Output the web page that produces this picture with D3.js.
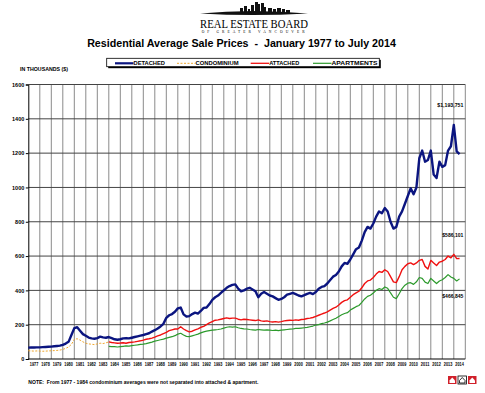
<!DOCTYPE html>
<html>
<head>
<meta charset="utf-8">
<script src="https://cdn.jsdelivr.net/npm/d3@7"></script>
<style>
  body { margin: 0; background: #fff; }
  svg text { font-family: "Liberation Sans", Arial, sans-serif; font-weight: bold; fill: #000; white-space: pre; }
</style>
</head>
<body>
<div id="chart"></div>
<script>
// quarterly values (thousands $), first value at start year, step 0.25 yr
const detachedStart = 1977;
const detached = [
  66, 67, 67, 68,   68, 69, 70, 71,   72, 74, 76, 78,   82, 90, 100, 140,
  180, 185, 165, 145,   135, 125, 120, 118,   122, 130, 126, 124,   128, 122, 115, 112,
  115, 120, 122, 120,   124, 128, 132, 136,   140, 145, 150, 160,   168, 178, 190, 205,
  240, 255, 262, 275,   295, 300, 260, 248,   250, 262, 270, 265,   280, 298, 300, 320,
  345, 360, 370, 385,   400, 415, 425, 432,   435, 410, 395, 400,   410, 415, 405, 395,
  360, 380, 390, 380,   370, 365, 355, 345,   350, 360, 375, 380,   385, 378, 370, 365,
  372, 380, 385, 378,   390, 410, 420, 425,   440, 460, 480, 490,   510, 540, 560, 555,
  580, 610, 640, 650,   690, 740, 770, 760,   790, 830, 860, 850,   880, 860, 800, 760,
  770, 830, 860, 905,   950, 995, 960, 1000,  1170, 1215, 1150, 1160,  1215, 1075, 1055, 1150,
  1120, 1130, 1215, 1240,  1364, 1210, 1194
];

const condoStart = 1977;
const condominium = [
  48, 47, 46, 47,   46, 45, 46, 47,   48, 49, 50, 52,   56, 62, 70, 85,
  115, 118, 110, 100,   92, 88, 86, 84,   88, 92, 90, 94,   100
];

const attachedStart = 1984;
const attached = [
  100, 96, 94, 92,   93, 95, 92, 96,   98, 100, 103, 106,   110, 115, 118, 122,
  128, 135, 140, 148,   155, 165, 170, 175,   175, 188, 175, 165,   158, 162, 170, 176,
  185, 190, 200, 210,   218, 226, 228, 232,   236, 240, 236, 238,   238, 232, 228, 232,
  230, 228, 226, 224,   228, 222, 220, 222,   218, 216, 218, 215,   218, 222, 224, 226,
  225, 228, 226, 230,   232, 236, 238, 242,   248, 255, 262, 268,   275, 285, 295, 302,
  315, 330, 340, 345,   360, 375, 385, 395,   415, 440, 455, 460,   475, 495, 510, 505,
  520, 510, 480, 450,   445, 480, 520, 540,   555, 560, 550, 560,   575, 580, 540, 525,
  575, 560, 545, 565,   570, 580, 600, 590,   610, 585, 586
];

const apartmentsStart = 1984;
const apartments = [
  74, 72, 72, 70,   72, 74, 76, 75,   78, 80, 82, 85,   87, 90, 94, 98,
  104, 108, 112, 116,   122, 126, 130, 136,   145, 150, 140, 132,   130, 135, 140, 145,
  152, 158, 162, 165,   168, 170, 172, 175,   180, 185, 188, 186,   188, 182, 178, 176,
  175, 172, 170, 168,   172, 170, 168, 170,   168, 166, 168, 165,   168, 170, 172, 174,
  175, 178, 178, 180,   182, 184, 188, 192,   198, 200, 206, 210,   215, 222, 230, 238,
  248, 258, 265, 270,   285, 295, 305, 312,   330, 350, 365, 372,   385, 400, 410, 405,
  420, 412, 385, 360,   352, 380, 410, 430,   442, 445, 435, 450,   475, 470, 448, 440,
  470, 455, 440, 455,   462, 475, 492, 478,   470, 455, 467
];

const years = d3.range(1977, 2015);
const yTicks = [0, 200, 400, 600, 800, 1000, 1200, 1400, 1600];

const legendItems = [
  { label: "DETACHED", color: "#0b1580", dash: null, width: 2.2, len: 31.5 },
  { label: "CONDOMINIUM", color: "#f0a830", dash: "2,1.5", width: 1, len: 43 },
  { label: "ATTACHED", color: "#f01010", dash: null, width: 1.3, len: 30 },
  { label: "APARTMENTS", color: "#2c9a2c", dash: null, width: 1.2, len: 46 }
];

const endLabels = [
  { text: "$1,193,751", y: 107.3, len: 26 },
  { text: "$586,101", y: 237.3, len: 21 },
  { text: "$466,845", y: 298.3, len: 21 }
];

const W = 485, H = 393;
const plot = { left: 28.3, right: 465.3, top: 84.5, bottom: 359 };

const svg = d3.select("#chart").append("svg")
  .attr("width", W).attr("height", H);

const x = d3.scaleLinear().domain([1977, 2015]).range([plot.left, plot.right]);
const y = d3.scaleLinear().domain([0, 1600]).range([plot.bottom, plot.top]);

// logo
const logo = svg.append("g");
logo.append("path")
  .attr("d", "M200,13.6 Q252,8.2 308,13.6 Q252,16.6 200,13.6 Z")
  .attr("fill", "#111");
const towers = [[240,8,3],[244,6,3],[248,9,2],[251,5,3],[255,2,3],[258,4,2],[261,3,3],[264,7,2],[268,8,4],[273,9,3],[277,8,4],[282,9,3],[286,10,4]];
towers.forEach(t => {
  logo.append("rect").attr("x", t[0]).attr("y", t[1]).attr("width", t[2]).attr("height", 13 - t[1]).attr("fill", "#111");
});
logo.append("text")
  .attr("x", 200).attr("y", 28)
  .attr("textLength", 108).attr("lengthAdjust", "spacingAndGlyphs")
  .style("font-family", "'Liberation Serif', 'Times New Roman', serif")
  .style("font-weight", "normal")
  .style("font-size", "12.5px")
  .text("REAL ESTATE BOARD");
logo.append("text")
  .attr("x", 201.7).attr("y", 32.8)
  .attr("textLength", 103).attr("lengthAdjust", "spacing")
  .style("font-family", "'Liberation Serif', 'Times New Roman', serif")
  .style("font-weight", "normal")
  .style("font-size", "3.6px")
  .text("OF GREATER VANCOUVER");

// title
svg.append("text")
  .attr("x", 241.5).attr("y", 47)
  .attr("text-anchor", "middle")
  .style("font-size", "10.7px")
  .text("Residential Average Sale Prices  -  January 1977 to July 2014");

// legend box
const lg = svg.append("g");
lg.append("rect").attr("x", 108.2).attr("y", 59.8).attr("width", 272.6).attr("height", 8.4).attr("fill", "#000");
lg.append("rect").attr("x", 106.7).attr("y", 58.3).attr("width", 272.6).attr("height", 8.4)
  .attr("fill", "#fff").attr("stroke", "#000").attr("stroke-width", 0.8);
const legendX = [115, 177, 250.7, 313];
legendItems.forEach((d, i) => {
  const lx = legendX[i];
  lg.append("line")
    .attr("x1", lx).attr("x2", lx + 18.5).attr("y1", 63.3).attr("y2", 63.3)
    .attr("stroke", d.color).attr("stroke-width", d.width)
    .attr("stroke-dasharray", d.dash);
  lg.append("text")
    .attr("x", lx + 18.5).attr("y", 65.2)
    .attr("textLength", d.len).attr("lengthAdjust", "spacingAndGlyphs")
    .style("font-size", "5.5px")
    .text(d.label);
});

svg.append("text")
  .attr("x", 20).attr("y", 70.5)
  .attr("textLength", 48).attr("lengthAdjust", "spacingAndGlyphs")
  .style("font-size", "5px")
  .text("IN THOUSANDS ($)");

// grid
const grid = svg.append("g");
grid.selectAll(".vg").data(years.slice(1).concat([2015])).enter().append("line")
  .attr("x1", d => x(d)).attr("x2", d => x(d))
  .attr("y1", plot.top).attr("y2", plot.bottom)
  .attr("stroke", "#8a8a8a").attr("stroke-width", 1);
grid.selectAll(".hg").data(yTicks.slice(1)).enter().append("line")
  .attr("x1", plot.left).attr("x2", plot.right)
  .attr("y1", d => y(d)).attr("y2", d => y(d))
  .attr("stroke", "#444").attr("stroke-width", 1);

// axes
const yAxis = svg.append("g")
  .attr("transform", `translate(${plot.left},0)`)
  .call(d3.axisLeft(y).tickValues(yTicks).tickSize(2.5).tickPadding(1.5).tickFormat(d3.format("d")));
yAxis.select(".domain").attr("stroke", "#000");
yAxis.selectAll("text").style("font-size", "5.5px").style("font-family", "'Liberation Sans', Arial, sans-serif").style("font-weight", "bold");

svg.append("line")
  .attr("x1", plot.left).attr("x2", plot.right)
  .attr("y1", plot.bottom).attr("y2", plot.bottom)
  .attr("stroke", "#000").attr("stroke-width", 1);

svg.append("g").selectAll("text").data(years).enter().append("text")
  .attr("x", d => x(d + 0.5) - 4.2)
  .attr("y", 366)
  .attr("textLength", 8.5).attr("lengthAdjust", "spacingAndGlyphs")
  .style("font-size", "5.8px")
  .text(d => d);

// series
function series(vals, start) {
  return vals.map((v, i) => ({ t: start + i * 0.25, v }));
}
const line = d3.line().x(d => x(d.t)).y(d => y(d.v));

const lines = svg.append("g");
lines.append("path").datum(series(condominium, condoStart))
  .attr("d", line).attr("fill", "none")
  .attr("stroke", "#f0a830").attr("stroke-width", 1).attr("stroke-dasharray", "2,1.5");
lines.append("path").datum(series(apartments, apartmentsStart))
  .attr("d", line).attr("fill", "none")
  .attr("stroke", "#2c9a2c").attr("stroke-width", 1.2).attr("stroke-linejoin", "round");
lines.append("path").datum(series(attached, attachedStart))
  .attr("d", line).attr("fill", "none")
  .attr("stroke", "#f01010").attr("stroke-width", 1.4).attr("stroke-linejoin", "round");
lines.append("path").datum(series(detached, detachedStart))
  .attr("d", line).attr("fill", "none")
  .attr("stroke", "#0b1580").attr("stroke-width", 2.4).attr("stroke-linejoin", "round");

// end value labels
svg.append("g").selectAll("text").data(endLabels).enter().append("text")
  .attr("x", 463.3).attr("y", d => d.y)
  .attr("text-anchor", "end")
  .attr("textLength", d => d.len).attr("lengthAdjust", "spacingAndGlyphs")
  .style("font-size", "5.5px")
  .text(d => d.text);

// note
svg.append("text")
  .attr("x", 28.3).attr("y", 383.5)
  .attr("textLength", 230).attr("lengthAdjust", "spacingAndGlyphs")
  .style("font-size", "5.5px")
  .text("NOTE:  From 1977 - 1984 condominium averages were not separated into attached & apartment.");

// small logos bottom right
const icons = svg.append("g");
[[448, "#d0202a"], [458, "#fff"], [468, "#d0202a"]].forEach(d => {
  icons.append("rect").attr("x", d[0]).attr("y", 376).attr("width", 8.5).attr("height", 8)
    .attr("fill", d[1]).attr("stroke", d[1] === "#fff" ? "#000" : "none").attr("stroke-width", 0.8);
  icons.append("path")
    .attr("d", `M${d[0] + 1.5},${380.5} L${d[0] + 4.25},${377.5} L${d[0] + 7},${380.5} L${d[0] + 7},${383} L${d[0] + 1.5},${383} Z`)
    .attr("fill", "#fff").attr("stroke", d[1] === "#fff" ? "#000" : "none").attr("stroke-width", 0.8);
});
</script>
</body>
</html>
